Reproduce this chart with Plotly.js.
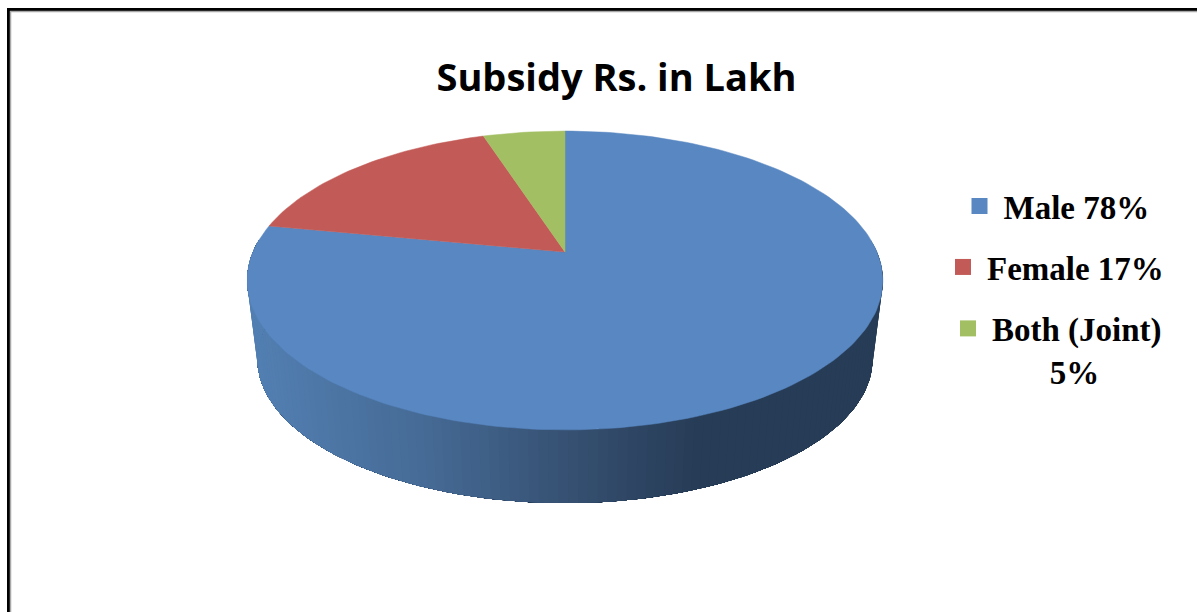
<!DOCTYPE html>
<html>
<head>
<meta charset="utf-8">
<script src="https://cdn.plot.ly/plotly-3.0.1.min.js"></script>
<style>html,body{margin:0;padding:0;background:#fff;overflow:hidden}</style>
</head>
<body>
<div id="chart" style="width:1197px;height:612px"></div>
<script>
// Data
const categories = ["Male", "Female", "Both (Joint)"];
const shares = [78, 17, 5];
const legendLabels = ["<b>Male 78%</b>", "<b>Female 17%</b>", "<b>Both (Joint)</b><br><b>\u00A0\u00A0\u00A0\u00A0\u00A0\u00A0\u00A05%</b>"];
const sliceColors = ["#5887C1", "#C25B57", "#A3BF63"];

// Projection of the tilted disc (pixel axes)
const CX = 565;
const top3d = {y0: 252, a: 144, b: 312, c: 0.1905};
const bottom3d = {y0: 331.6, a: 138.8, b: 302, c: 0.1905};
function project(p, deg) {
  const t = deg * Math.PI / 180, u = Math.sin(t), v = Math.cos(t), w = 1 + p.c * v;
  return [CX + p.b * u / w, p.y0 - p.a * v / w];
}
function arc(p, from, to) {
  const pts = [], n = Math.max(2, Math.ceil(Math.abs(to - from) / 1.5));
  for (let i = 0; i <= n; i++) pts.push(project(p, from + (to - from) * i / n));
  return pts;
}
// wall shade by horizontal position
const wallStops = [[250,[82,127,178]],[420,[70,107,150]],[565,[54,81,115]],[700,[39,60,86]],[900,[39,60,86]]];
function shade(x) {
  for (let i = 1; i < wallStops.length; i++) {
    if (x <= wallStops[i][0]) {
      const [x0,c0] = wallStops[i-1], [x1,c1] = wallStops[i], f = Math.max(0,(x-x0)/(x1-x0));
      return "rgb(" + c0.map((c,k)=>Math.round(c+(c1[k]-c)*f)).join(",") + ")";
    }
  }
  return "rgb(39,60,86)";
}

const total = shares.reduce((a,b)=>a+b,0);
const traces = [];
let start = 0;
const spans = shares.map(s => { const r = [start, start + s/total*360]; start = r[1]; return r; });

// Side wall: painted from right to left, each band running on to the far end of the
// visible front so that neighbouring bands leave no seam
spans.forEach(([a,b]) => {
  const from = Math.max(a, 85), to = Math.min(b, 275);
  if (to <= from) return;
  const step = 1.5;
  for (let d = from; d < to; d += step) {
    const ring = arc(top3d, d, to).concat(arc(bottom3d, to, d));
    const color = shade((project(top3d,d)[0] + project(top3d,Math.min(d+step,to))[0]) / 2);
    traces.push({type:"scatter", mode:"lines", x:ring.map(p=>p[0]), y:ring.map(p=>p[1]),
      fill:"toself", fillcolor:color, line:{width:0}, hoverinfo:"skip", showlegend:false});
  }
});

// Top face
spans.forEach(([a,b],i) => {
  const rim = arc(top3d, a, b);
  const apexPt = [CX, top3d.y0];
  const ring = [apexPt].concat(rim).concat([apexPt]);
  traces.push({type:"scatter", mode:"lines", name:categories[i], x:ring.map(p=>p[0]), y:ring.map(p=>p[1]),
    fill:"toself", fillcolor:sliceColors[i], line:{color:sliceColors[i],width:0.5}, showlegend:false,
    text:categories[i]+" "+shares[i]+"%", hoverinfo:"text"});
});

// Legend entries
const legendIds = ["legend","legend2","legend3"];
categories.forEach((c,i) => {
  traces.push({type:"scatter", mode:"markers", name:legendLabels[i], x:[null], y:[null],
    marker:{symbol:"square", size:16, color:sliceColors[i]}, legend:legendIds[i], showlegend:true, hoverinfo:"skip"});
});

const legFont = {family:"Liberation Serif", size:33, color:"#000"};
const W = 1197, H = 612;
function leg(px, py) {
  return {x:px/W, y:1-py/H, xanchor:"left", yanchor:"top", font:legFont, bgcolor:"rgba(0,0,0,0)",
    borderwidth:0, itemsizing:"trace", itemwidth:38, itemclick:false, itemdoubleclick:false};
}
const layout = {
  width:W, height:H, margin:{l:0,r:0,t:0,b:0}, paper_bgcolor:"#fff", plot_bgcolor:"#fff",
  title:{text:"<b>Subsidy Rs. in Lakh</b>", font:{family:"Open Sans", size:38, color:"#000"},
    x:616.5/W, xanchor:"center", xref:"paper", y:1-78/H, yanchor:"middle", yref:"container"},
  xaxis:{range:[0,W], visible:false, fixedrange:true},
  yaxis:{range:[H,0], visible:false, fixedrange:true},
  legend:leg(955.5,178), legend2:leg(939,239), legend3:leg(944,300),
  shapes:[
    {type:"line", xref:"x", yref:"y", x0:8.5, x1:8.5, y0:8, y1:612, line:{color:"#000",width:3}},
    {type:"line", xref:"x", yref:"y", x0:7, x1:1197, y0:9.5, y1:9.5, line:{color:"#000",width:3}},
    {type:"line", xref:"x", yref:"y", x0:10.5, x1:10.5, y0:11, y1:612, line:{color:"#a8a8a8",width:1.5}},
    {type:"line", xref:"x", yref:"y", x0:10, x1:1197, y0:11.5, y1:11.5, line:{color:"#a8a8a8",width:1.5}}
  ],
  showlegend:true
};
function tuneLegend(gd) {
  // two-line legend entry: marker sits beside the first line, tighter line gap
  const sym = gd.querySelector(".legend3 .legendsymbols");
  if (sym) sym.setAttribute("transform", "translate(0,-21)");
  const lines = gd.querySelectorAll(".legend3 .legendtext .line");
  if (lines.length > 1) { lines[1].setAttribute("dy", "1.18em"); lines[1].setAttribute("dx", "2"); }
}
Plotly.newPlot("chart", traces, layout, {displayModeBar:false, responsive:false}).then(gd => {
  tuneLegend(gd);
  requestAnimationFrame(() => tuneLegend(gd));
  setTimeout(() => tuneLegend(gd), 30);
});
</script>
</body>
</html>
